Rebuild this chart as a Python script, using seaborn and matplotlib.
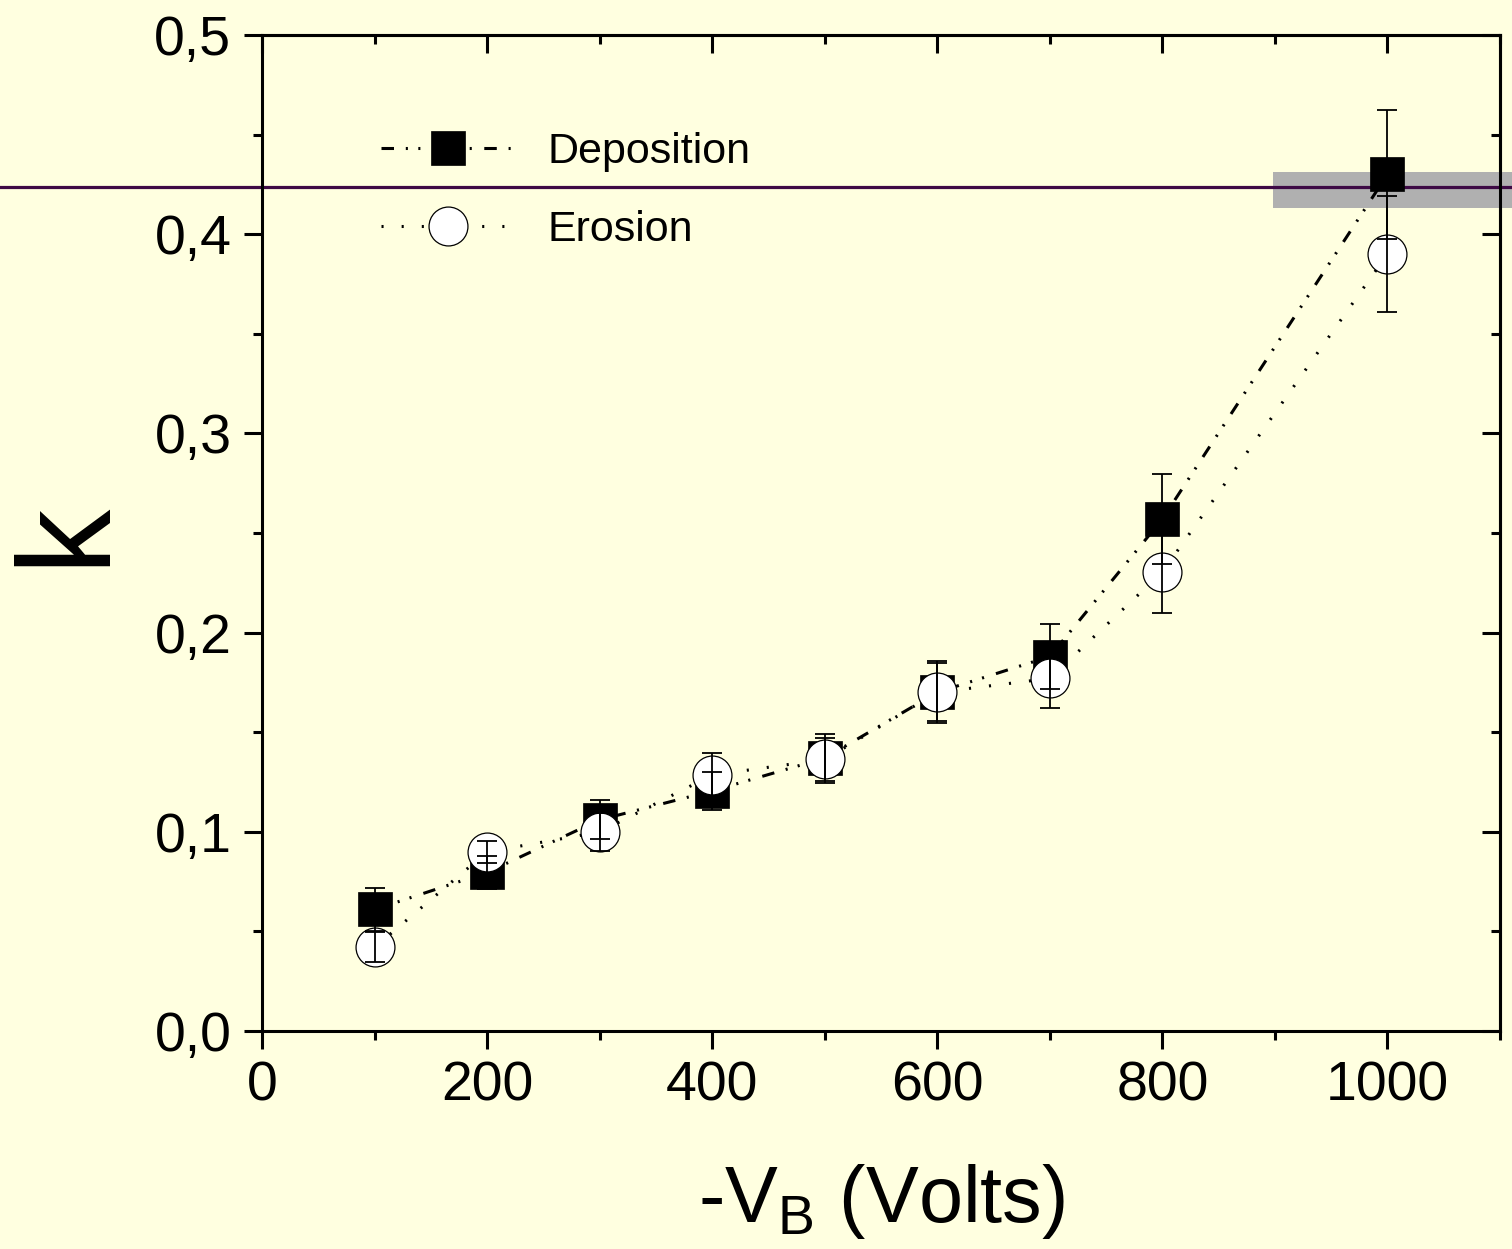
import matplotlib
matplotlib.use("Agg")
import matplotlib.pyplot as plt
import seaborn as sns
import pandas as pd
from matplotlib.ticker import MultipleLocator, FuncFormatter

# ---- data ----
voltage = [100, 200, 300, 400, 500, 600, 700, 800, 1000]
deposition = [0.061, 0.0796, 0.106, 0.1205, 0.137, 0.170, 0.188, 0.257, 0.430]
deposition_err = [0.011, 0.0085, 0.0098, 0.0097, 0.0123, 0.0155, 0.0165, 0.0226, 0.0325]
erosion = [0.042, 0.0899, 0.0999, 0.1285, 0.1363, 0.170, 0.177, 0.2304, 0.390]
erosion_err = [0.0075, 0.0055, 0.0095, 0.011, 0.011, 0.0145, 0.0148, 0.0206, 0.029]
ref_level = 0.4237
band_low, band_high = 0.413, 0.431
band_start = 898
x_ticks = [0, 200, 400, 600, 800, 1000]
y_ticks = [0.0, 0.1, 0.2, 0.3, 0.4, 0.5]

sns.set_theme(style="ticks")
plt.rcParams["font.family"] = ["Liberation Sans", "DejaVu Sans"]
plt.rcParams["mathtext.fontset"] = "custom"
plt.rcParams["mathtext.rm"] = "Liberation Sans"
plt.rcParams["lines.scale_dashes"] = False

bg = "#FFFFE0"
fig = plt.figure(figsize=(15.12, 12.49), dpi=100, facecolor=bg)
ax = fig.add_axes([262 / 1512, 1 - 1031 / 1249, 1238 / 1512, 996 / 1249])
ax.set_facecolor(bg)

df = pd.DataFrame({"V": voltage, "dep": deposition, "ero": erosion})

# reference band and line
ax.axhspan(band_low, band_high, xmin=(band_start) / 1100, xmax=1.02,
           color="#B0B0B0", lw=0, zorder=1, clip_on=False)
ax.axhline(ref_level, xmin=-0.22, xmax=1.02, color="#3E0A45", lw=2.3,
           zorder=2, clip_on=False)

sns.lineplot(data=df, x="V", y="dep", ax=ax, color="black", lw=2.2,
             linestyle=(0, (9, 8.5, 1.5, 7.5, 1.5, 9)),
             marker="s", markersize=25, markerfacecolor="black",
             markeredgecolor="black", markeredgewidth=0.5,
             label="Deposition", zorder=3)
sns.lineplot(data=df, x="V", y="ero", ax=ax, color="black", lw=2.2,
             linestyle=(0, (1.5, 13)),
             marker="o", markersize=28, markerfacecolor="white",
             markeredgecolor="black", markeredgewidth=0.9,
             label="Erosion", zorder=4)

ax.errorbar(voltage, deposition, yerr=deposition_err, fmt="none", ecolor="black",
            elinewidth=1.3, capsize=7, capthick=1.3, zorder=5)
ax.errorbar(voltage, erosion, yerr=erosion_err, fmt="none", ecolor="black",
            elinewidth=1.3, capsize=7, capthick=1.3, zorder=5)

ax.set_xlim(0, 1100)
ax.set_ylim(0, 0.5)
ax.set_xticks(x_ticks)
ax.set_yticks(y_ticks)
ax.xaxis.set_minor_locator(MultipleLocator(100))
ax.yaxis.set_minor_locator(MultipleLocator(0.05))
ax.yaxis.set_major_formatter(FuncFormatter(lambda v, p: f"{v:.1f}".replace(".", ",")))
ax.tick_params(axis="both", which="major", direction="out", length=13, width=2.2,
               labelsize=40, color="black", labelcolor="black")
ax.tick_params(axis="both", which="minor", direction="out", length=6.5, width=2.2,
               color="black")
ax.tick_params(axis="x", which="major", pad=8)
ax.tick_params(axis="y", which="major", pad=9)

for s in ax.spines.values():
    s.set_visible(True)
    s.set_linewidth(2.2)
    s.set_color("black")

# inward ticks on top and right
sec_top = ax.secondary_xaxis("top")
sec_top.set_xticks(x_ticks)
sec_top.xaxis.set_minor_locator(MultipleLocator(100))
sec_top.tick_params(which="major", direction="in", length=13, width=2.2, labeltop=False, color="black")
sec_top.tick_params(which="minor", direction="in", length=6.5, width=2.2, color="black")
sec_top.spines["top"].set_linewidth(2.2)
sec_right = ax.secondary_yaxis("right")
sec_right.set_yticks(y_ticks)
sec_right.yaxis.set_minor_locator(MultipleLocator(0.05))
sec_right.tick_params(which="major", direction="in", length=13, width=2.2, labelright=False, color="black")
sec_right.tick_params(which="minor", direction="in", length=6.5, width=2.2, color="black")
sec_right.spines["right"].set_linewidth(2.2)

ax.set_xlabel(r"-V$_\mathregular{B}$ (Volts)", fontsize=57, color="black", labelpad=36)
ax.set_ylabel("k", fontsize=94, color="black", labelpad=18)

leg = ax.legend(loc="upper left", bbox_to_anchor=(0.0965, 0.903), frameon=False,
                fontsize=31, handlelength=3.1, handletextpad=0.75,
                labelspacing=0.9, borderpad=0, borderaxespad=0, numpoints=1)
for t in leg.get_texts():
    t.set_color("black")

fig.savefig("out.png", dpi=100, facecolor=bg)
